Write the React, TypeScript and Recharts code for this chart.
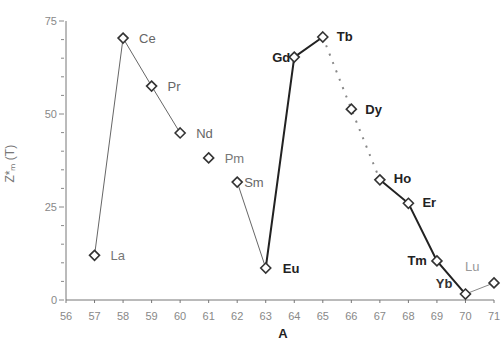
import { ComposedChart, Line, XAxis, YAxis, Label } from "recharts";

const ATOMIC = [57, 58, 59, 60, 61, 62, 63, 64, 65, 66, 67, 68, 69, 70, 71];
const ELEMENTS = ["La", "Ce", "Pr", "Nd", "Pm", "Sm", "Eu", "Gd", "Tb", "Dy", "Ho", "Er", "Tm", "Yb", "Lu"];
const ZVALUES = [12, 70.4, 57.5, 44.9, 38.2, 31.7, 8.6, 65.3, 70.7, 51.3, 32.3, 26, 10.5, 1.6, 4.6];

const X_TICKS = [56, 57, 58, 59, 60, 61, 62, 63, 64, 65, 66, 67, 68, 69, 70, 71];
const Y_TICKS = [0, 5, 10, 15, 20, 25, 30, 35, 40, 45, 50, 55, 60, 65, 70, 75];
const Y_LABELED = [0, 25, 50, 75];

// which points each line segment joins
const THIN_1 = ["La", "Ce", "Pr", "Nd"];
const THIN_2 = ["Sm", "Eu"];
const THIN_3 = ["Yb", "Lu"];
const THICK_1 = ["Eu", "Gd", "Tb"];
const THICK_2 = ["Ho", "Er", "Tm", "Yb"];
const DOTTED = ["Tb", "Dy", "Ho"];

const GROUPS: Record<string, string[]> = {
  thin1: THIN_1,
  thin2: THIN_2,
  thin3: THIN_3,
  thick1: THICK_1,
  thick2: THICK_2,
  dotted: DOTTED,
};

const rows = ATOMIC.map((z, i) => {
  const row: Record<string, any> = { z, el: ELEMENTS[i], v: ZVALUES[i] };
  Object.entries(GROUPS).forEach(([k, g]) => {
    row[k] = g.includes(ELEMENTS[i]) ? ZVALUES[i] : null;
  });
  return row;
});

// label placement relative to marker
const LABEL_STYLE: Record<string, { dx: number; dy: number; anchor?: string; bold?: boolean; color?: string }> = {
  La: { dx: 16, dy: 5, color: "#777" },
  Ce: { dx: 16, dy: 5, color: "#666" },
  Pr: { dx: 16, dy: 5, color: "#666" },
  Nd: { dx: 16, dy: 5, color: "#666" },
  Pm: { dx: 16, dy: 5, color: "#777" },
  Sm: { dx: 7, dy: 5, color: "#666" },
  Eu: { dx: 17, dy: 5, bold: true, color: "#222" },
  Gd: { dx: -4, dy: 5, anchor: "end", bold: true, color: "#222" },
  Tb: { dx: 14, dy: 4, bold: true, color: "#222" },
  Dy: { dx: 14, dy: 5, bold: true, color: "#222" },
  Ho: { dx: 14, dy: 3, bold: true, color: "#222" },
  Er: { dx: 14, dy: 4, bold: true, color: "#222" },
  Tm: { dx: -10, dy: 4, anchor: "end", bold: true, color: "#222" },
  Yb: { dx: -13, dy: -6, anchor: "end", bold: true, color: "#333" },
  Lu: { dx: -29, dy: -12, color: "#999" },
};

const Marker = (props: any) => {
  const { cx, cy, payload } = props;
  if (cx == null || cy == null) return null;
  const s = LABEL_STYLE[payload.el];
  const r = 5;
  return (
    <g>
      <polygon
        points={`${cx},${cy - r} ${cx + r},${cy} ${cx},${cy + r} ${cx - r},${cy}`}
        fill="#fff"
        stroke="#333"
        strokeWidth={1.6}
      />
      <text
        x={cx + s.dx}
        y={cy + s.dy}
        textAnchor={s.anchor ?? "start"}
        fontSize={13}
        fontWeight={s.bold ? 700 : 400}
        fill={s.color}
        fontFamily="Liberation Sans, Arial, sans-serif"
      >
        {payload.el}
      </text>
    </g>
  );
};

const YTick = (props: any) => {
  const { x, y, payload } = props;
  const show = Y_LABELED.includes(payload.value);
  return (
    <g>
      <line x1={x + 6} x2={x + (show ? 1 : 3)} y1={y} y2={y} stroke="#888" strokeWidth={1} />
      {show && (
        <text x={x - 1} y={y + 4} textAnchor="end" fontSize={11} fill="#888">
          {payload.value}
        </text>
      )}
    </g>
  );
};

export default function App() {
  const font = "Liberation Sans, Arial, sans-serif";
  return (
    <div style={{ position: "absolute", left: 0, top: 0, background: "#fff", fontFamily: font }}>
      <ComposedChart width={501} height={344} data={rows} margin={{ top: 21, right: 7, bottom: 0, left: 0 }}>
        <XAxis
          dataKey="z"
          type="number"
          domain={[56, 71]}
          ticks={X_TICKS}
          interval={0}
          height={44}
          stroke="#777"
          tickSize={3}
          tickMargin={9}
          tick={{ fontSize: 11, fill: "#888", fontFamily: font }}
        >
          <Label value="A" position="insideBottom" offset={6} dx={3} fontSize={13} fontWeight={700} fill="#222" fontFamily={font} />
        </XAxis>
        <YAxis
          type="number"
          domain={[0, 75]}
          ticks={Y_TICKS}
          interval={0}
          width={66}
          stroke="#777"
          tickLine={false}
          tick={<YTick />}
        >
          <Label
            value="Z*ₘ (T)"
            angle={-90}
            position="insideLeft"
            offset={10}
            dy={22}
            fontSize={12}
            fill="#777"
            fontFamily={font}
          />
        </YAxis>
        <Line dataKey="thin1" stroke="#666" strokeWidth={1} dot={false} isAnimationActive={false} />
        <Line dataKey="thin2" stroke="#666" strokeWidth={1} dot={false} isAnimationActive={false} />
        <Line dataKey="thin3" stroke="#888" strokeWidth={1} dot={false} isAnimationActive={false} />
        <Line dataKey="thick1" stroke="#222" strokeWidth={2} dot={false} isAnimationActive={false} />
        <Line dataKey="thick2" stroke="#222" strokeWidth={2} dot={false} isAnimationActive={false} />
        <Line dataKey="dotted" stroke="#888" strokeWidth={2} strokeDasharray="2 7" dot={false} isAnimationActive={false} />
        <Line dataKey="v" stroke="none" dot={<Marker />} activeDot={false} isAnimationActive={false} />
      </ComposedChart>
    </div>
  );
}
